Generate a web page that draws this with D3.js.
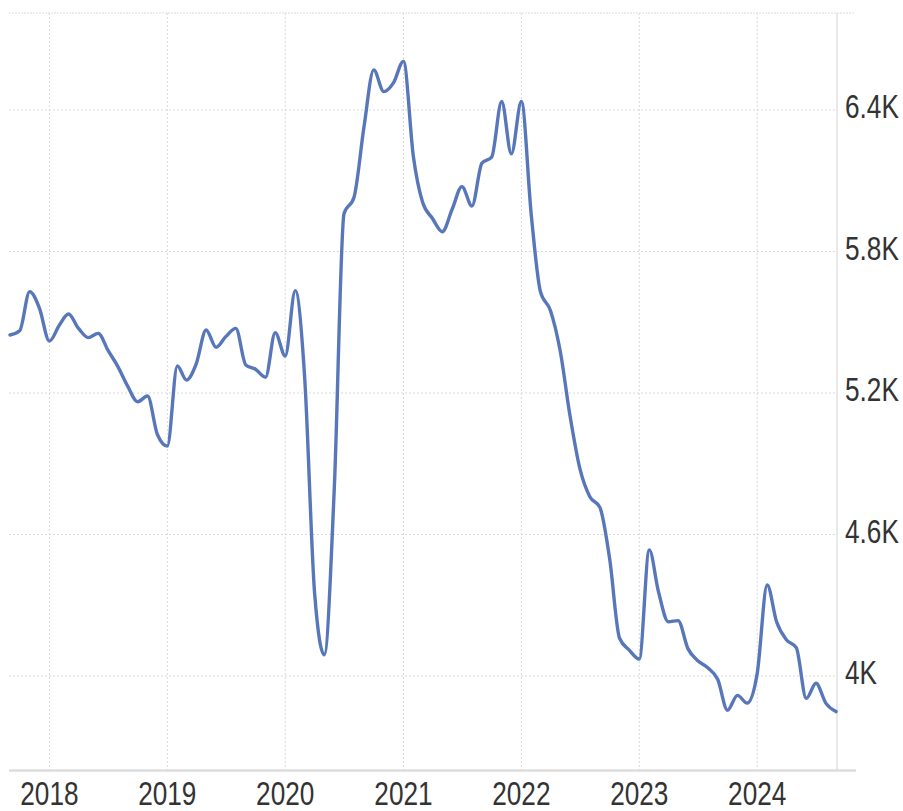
<!DOCTYPE html>
<html>
<head>
<meta charset="utf-8">
<script src="https://cdn.jsdelivr.net/npm/d3@7"></script>
<style>
  html, body { margin: 0; padding: 0; background: #fff; }
  svg { display: block; font-family: "Liberation Sans", Arial, sans-serif; }
</style>
</head>
<body>
<svg id="chart" width="903" height="811"></svg>
<script>
// monthly existing home sales, thousands (SAAR)
const months = [
  '2017-09', '2017-10', '2017-11', '2017-12',
  '2018-01', '2018-02', '2018-03', '2018-04', '2018-05', '2018-06', '2018-07', '2018-08', '2018-09', '2018-10', '2018-11', '2018-12',
  '2019-01', '2019-02', '2019-03', '2019-04', '2019-05', '2019-06', '2019-07', '2019-08', '2019-09', '2019-10', '2019-11', '2019-12',
  '2020-01', '2020-02', '2020-03', '2020-04', '2020-05', '2020-06', '2020-07', '2020-08', '2020-09', '2020-10', '2020-11', '2020-12',
  '2021-01', '2021-02', '2021-03', '2021-04', '2021-05', '2021-06', '2021-07', '2021-08', '2021-09', '2021-10', '2021-11', '2021-12',
  '2022-01', '2022-02', '2022-03', '2022-04', '2022-05', '2022-06', '2022-07', '2022-08', '2022-09', '2022-10', '2022-11', '2022-12',
  '2023-01', '2023-02', '2023-03', '2023-04', '2023-05', '2023-06', '2023-07', '2023-08', '2023-09', '2023-10', '2023-11', '2023-12',
  '2024-01', '2024-02', '2024-03', '2024-04', '2024-05', '2024-06', '2024-07', '2024-08', '2024-09'
];

const sales = [
  5446, 5464, 5630, 5560,
  5420, 5488, 5535, 5474, 5435, 5453, 5382, 5312, 5227, 5163, 5187, 5025,
  4975, 5315, 5255, 5326, 5467, 5394, 5439, 5474, 5319, 5301, 5267, 5456,
  5357, 5634, 5270, 4350, 4090, 4800, 5960, 6030, 6330, 6570, 6478, 6515,
  6606, 6200, 6010, 5940, 5884, 5980, 6075, 5993, 6175, 6200, 6436, 6214,
  6436, 5950, 5630, 5550, 5380, 5100, 4880, 4760, 4715, 4500, 4160, 4110,
  4072, 4535, 4360, 4230, 4235, 4115, 4065, 4035, 3985, 3855, 3918, 3885,
  4010, 4386, 4230, 4153, 4120, 3905, 3969, 3884, 3849
];

const yearTicks = ['2018', '2019', '2020', '2021', '2022', '2023', '2024'];
const valueTicks = [4000, 4600, 5200, 5800, 6400];

const parseMonth = d3.timeParse('%Y-%m');
const data = months.map((m, i) => ({ date: parseMonth(m), value: sales[i] }));

const plot = { left: 9, right: 837, top: 13, bottom: 770 };

const x = d3.scaleTime()
  .domain([parseMonth('2017-09'), parseMonth('2024-09')])
  .range([10, 836]);

const y = d3.scaleLinear()
  .domain([4000, 6400])
  .range([676, 110]);

const svg = d3.select('#chart');
const grid = svg.append('g').attr('class', 'grid');

// vertical year gridlines
grid.selectAll('.vgrid')
  .data(yearTicks)
  .enter().append('line')
    .attr('class', 'vgrid')
    .attr('x1', d => x(parseMonth(d + '-01')))
    .attr('x2', d => x(parseMonth(d + '-01')))
    .attr('y1', plot.top)
    .attr('y2', plot.bottom)
    .attr('stroke', '#d9d9d9')
    .attr('stroke-width', 1)
    .attr('stroke-dasharray', '2,2');

// horizontal value gridlines
grid.selectAll('.hgrid')
  .data(valueTicks)
  .enter().append('line')
    .attr('class', 'hgrid')
    .attr('x1', plot.left)
    .attr('x2', plot.right)
    .attr('y1', d => y(d))
    .attr('y2', d => y(d))
    .attr('stroke', '#d9d9d9')
    .attr('stroke-width', 1.2)
    .attr('stroke-dasharray', '2,2');

// top border (dotted), right border, bottom axis line
grid.append('line')
  .attr('x1', plot.left).attr('x2', 855)
  .attr('y1', plot.top).attr('y2', plot.top)
  .attr('stroke', '#dcdcdc')
  .attr('stroke-dasharray', '2,1');

grid.append('line')
  .attr('x1', plot.right).attr('x2', plot.right)
  .attr('y1', plot.top).attr('y2', plot.bottom)
  .attr('stroke', '#e2e2e2')
  .attr('stroke-width', 1.5);

grid.append('line')
  .attr('x1', plot.left).attr('x2', 856)
  .attr('y1', plot.bottom + 1).attr('y2', plot.bottom + 1)
  .attr('stroke', '#e6e6e6')
  .attr('stroke-width', 2);

grid.append('line')
  .attr('x1', plot.left).attr('x2', 856)
  .attr('y1', plot.bottom).attr('y2', plot.bottom)
  .attr('stroke', '#d0d0d0')
  .attr('stroke-width', 1);

// the series
const line = d3.line()
  .x(d => x(d.date))
  .y(d => y(d.value))
  .curve(d3.curveMonotoneX);

svg.append('path')
  .datum(data)
  .attr('fill', 'none')
  .attr('stroke', '#5877ba')
  .attr('stroke-width', 3.4)
  .attr('stroke-linejoin', 'round')
  .attr('stroke-linecap', 'round')
  .attr('d', line);

// axis labels, narrow looking text
const fmt = v => d3.format('.2~s')(v).replace('k', 'K');
const squeeze = 0.77;

svg.append('g').selectAll('text')
  .data(yearTicks)
  .enter().append('text')
    .attr('transform', d => `translate(${x(parseMonth(d + '-01'))},805) scale(${squeeze},1)`)
    .attr('text-anchor', 'middle')
    .attr('font-size', 34)
    .attr('fill', '#333')
    .text(d => d);

svg.append('g').selectAll('text')
  .data(valueTicks)
  .enter().append('text')
    .attr('transform', d => `translate(845,${y(d) + 8}) scale(${squeeze},1)`)
    .attr('text-anchor', 'start')
    .attr('font-size', 34)
    .attr('fill', '#333')
    .text(d => fmt(d));
</script>
</body>
</html>
